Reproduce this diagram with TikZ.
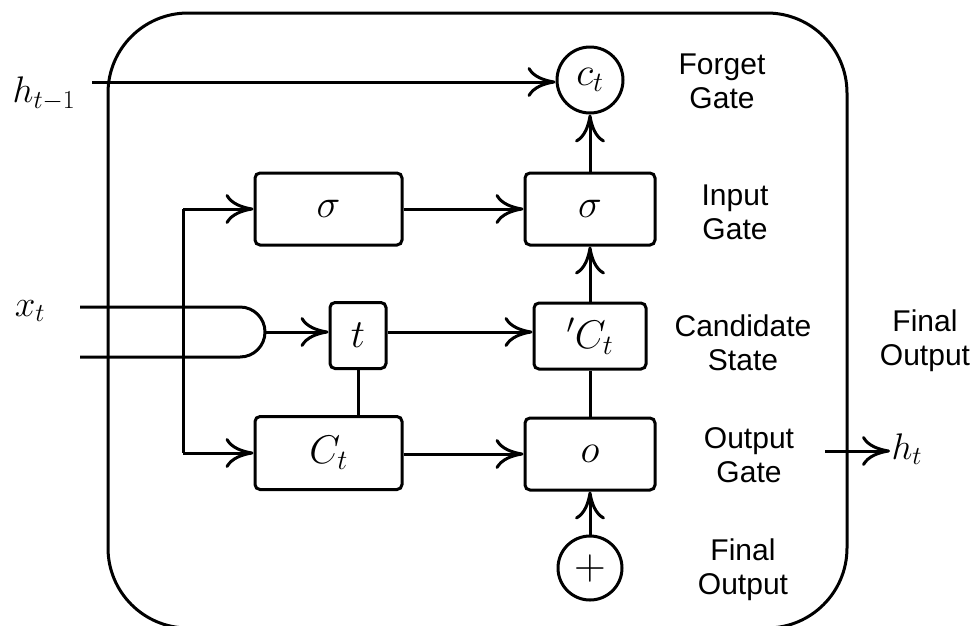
\documentclass[tikz,border=0pt]{standalone}
\usepackage{fix-cm}
\usepackage[no-math]{fontspec}
\newfontfamily\labelfont{Liberation Sans}
\usetikzlibrary{arrows.meta}
\begin{document}
\begin{tikzpicture}[x=1pt,y=-1pt,
  line width=3pt,
  >={To[length=28pt,width=30pt]},
  unit/.style={draw,rounded corners=5pt,inner sep=0pt,
    font=\fontsize{40}{44}\selectfont},
  ring/.style={draw,circle,inner sep=0pt,
    font=\fontsize{40}{44}\selectfont},
  caption/.style={align=center,font=\labelfont\fontsize{30}{34}\selectfont},
  mathlabel/.style={inner sep=0pt,font=\fontsize{37}{40}\selectfont}]
\useasboundingbox (0,0) rectangle (975,625);

% cell boundary
\draw[rounded corners=80pt] (108,13) rectangle (847,628);

% gate boxes
\node[unit,minimum width=147pt,minimum height=72pt] (sigA) at (328.5,209) {$\sigma$};
\node[unit,minimum width=130pt,minimum height=72pt] (sigB) at (590,209) {$\sigma$};
\node[unit,minimum width=56pt,minimum height=66pt] (tanh) at (358,335.5) {$t$};
\node[unit,minimum width=112pt,minimum height=66pt] (cand) at (590,336) {$'C_t$};
\node[unit,minimum width=147pt,minimum height=73pt] (cell) at (328.5,453) {$C_t$};
\node[unit,minimum width=130pt,minimum height=72pt] (outg) at (590,454) {$o$};

% state and sum nodes
\node[ring,minimum size=66pt] (cstate) at (590,80) {$c_t$};
\node[ring,minimum size=64pt,font=\fontsize{44}{48}\selectfont] (sum) at (590,568) {$+$};

% inputs and output
\node[mathlabel] (hprev) at (44,94) {$h_{t-1}$};
\node[mathlabel] (xin) at (30,311) {$x_t$};
\node[mathlabel,anchor=west] (hout) at (890,449) {$h_t$};

% captions
\node[caption] (capF) at (722,81) {Forget\\Gate};
\node[caption] (capI) at (735,212) {Input\\Gate};
\node[caption] (capC) at (743,343) {Candidate\\State};
\node[caption] (capO) at (749,455) {Output\\Gate};
\node[caption] (capS) at (743,570) {Final\\Output};
\node[caption] (capR) at (925,341) {Final\\Output};

% merged input bus
\coordinate (busIn) at (80,307);
\coordinate (busTip) at (265,332);
\draw (busIn) -- (240,307) arc[start angle=90,end angle=-90,radius=25pt] -- (80,357);

% branch to the sigma and cell boxes
\coordinate (brTop) at (183,209);
\coordinate (brBot) at (183,453);
\draw (brTop) -- (brBot);
\draw[->] (brTop) -- (sigA.west);
\draw[->] (brBot) -- (cell.west);

% horizontal flow
\coordinate (hStart) at (92,82);
\draw[->] (hStart) -- (cstate.west |- hStart);
\draw[->] (sigA.east) -- (sigB.west);
\draw[->] (busTip) -- (tanh.west |- busTip);
\draw[->] (tanh.east |- busTip) -- (cand.west |- busTip);
\draw[->] (cell.east |- outg.west) -- (outg.west);
\draw (tanh.south) -- (tanh.south |- cell.north);

% vertical flow
\draw[->] (cand.north) -- (sigB.south);
\draw[->] (sigB.north) -- (cstate.south);
\draw (outg.north) -- (cand.south);
\draw[->] (sum.north) -- (outg.south);

% output
\coordinate (oStart) at (825,451);
\draw[->] (oStart) -- (hout.west |- oStart);
\end{tikzpicture}
\end{document}
